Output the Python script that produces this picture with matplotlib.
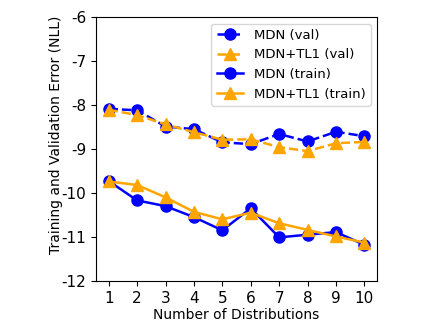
import matplotlib
matplotlib.use('Agg')
import matplotlib.pyplot as plt

plt.rcParams['axes.unicode_minus'] = False

n_dist = [1, 2, 3, 4, 5, 6, 7, 8, 9, 10]
mdn_val = [-8.09, -8.12, -8.49, -8.55, -8.85, -8.89, -8.66, -8.83, -8.61, -8.71]
tl1_val = [-8.11, -8.23, -8.44, -8.62, -8.79, -8.78, -8.96, -9.05, -8.87, -8.84]
mdn_train = [-9.73, -10.17, -10.30, -10.55, -10.85, -10.35, -11.01, -10.95, -10.89, -11.18]
tl1_train = [-9.74, -9.82, -10.10, -10.43, -10.60, -10.45, -10.69, -10.84, -10.99, -11.13]

fig = plt.figure(figsize=(4.36, 3.27), dpi=100)
ax = fig.add_axes([0.22, 0.141, 0.645, 0.807])

ax.plot(n_dist, mdn_val, '--o', color='blue', markersize=8, lw=1.8, label='MDN (val)')
ax.plot(n_dist, tl1_val, '--^', color='orange', markersize=8, lw=1.8, label='MDN+TL1 (val)')
ax.plot(n_dist, mdn_train, '-o', color='blue', markersize=8, lw=1.8, label='MDN (train)')
ax.plot(n_dist, tl1_train, '-^', color='orange', markersize=8, lw=1.8, label='MDN+TL1 (train)')

ax.set_ylim(-12, -6)
ax.set_xticks(n_dist)
ax.tick_params(labelsize=11)
ax.set_xlabel('Number of Distributions', fontsize=10, labelpad=2)
ax.set_ylabel('Training and Validation Error (NLL)', fontsize=10)
ax.yaxis.set_label_coords(-0.117, 0.553)
ax.legend(loc='upper right', fontsize=9.5)

plt.savefig('out.png')
